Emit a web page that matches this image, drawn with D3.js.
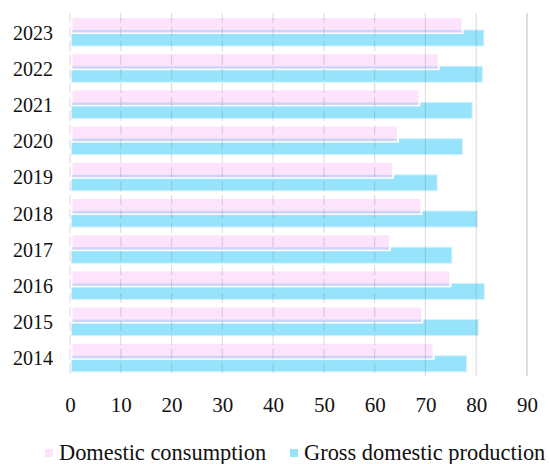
<!DOCTYPE html>
<html>
<head>
<meta charset="utf-8">
<script src="https://cdn.jsdelivr.net/npm/d3@7"></script>
<style>
  html, body { margin: 0; padding: 0; background: #fff; }
  svg { display: block; }
  text { font-family: "Liberation Serif", "Times New Roman", serif; fill: #111; }
</style>
</head>
<body>
<svg id="chart" width="550" height="464"></svg>
<script>
// Years, top to bottom
const years = ["2023", "2022", "2021", "2020", "2019", "2018", "2017", "2016", "2015", "2014"];
// Domestic consumption per year
const consumption = [77.3, 72.6, 68.8, 64.6, 63.6, 69.2, 63.0, 74.9, 69.4, 71.6];
// Gross domestic production per year
const production = [81.5, 81.2, 79.2, 77.3, 72.3, 80.2, 75.2, 81.6, 80.4, 78.1];
// Axis ticks
const ticks = [0, 10, 20, 30, 40, 50, 60, 70, 80, 90];
const seriesNames = ["Domestic consumption", "Gross domestic production"];

const svg = d3.select("#chart");

const x = d3.scaleLinear().domain([0, 90]).range([70, 527]);
const y = d3.scaleBand().domain(years).range([14, 376]).padding(0);

const rows = years.map((yr, i) => ({ year: yr, cons: consumption[i], prod: production[i] }));

// Production bars (lower bar of each pair)
svg.append("g").selectAll("rect")
  .data(rows).join("rect")
  .attr("x", x(0) + 1.5)
  .attr("y", d => y(d.year) + 16)
  .attr("width", d => x(d.prod) - x(0) - 1.5)
  .attr("height", 16)
  .attr("fill", "#98e3fc")
  .attr("stroke", "#d2f2fd")
  .attr("stroke-width", 1);

// Consumption bars (upper bar, drawn over production)
const cons = svg.append("g").selectAll("g")
  .data(rows).join("g");
cons.append("rect")
  .attr("x", x(0) + 1.5)
  .attr("y", d => y(d.year) + 3)
  .attr("width", d => x(d.cons) - x(0) - 1.5)
  .attr("height", 16)
  .attr("fill", "#fde3fc")
  .attr("stroke", "#ffffff")
  .attr("stroke-width", 2);
cons.append("rect")
  .attr("x", x(0) + 2.5)
  .attr("y", d => y(d.year) + 16)
  .attr("width", d => x(d.cons) - x(0) - 3.5)
  .attr("height", 2.5)
  .attr("fill", "#cdd4f9");

// Vertical grid lines, drawn over the bars
const grid = svg.append("g");
grid.selectAll("line")
  .data(ticks).join("line")
  .attr("x1", d => x(d)).attr("x2", d => x(d))
  .attr("y1", 13).attr("y2", 376)
  .attr("stroke", d => d === 90 ? "rgba(150,150,150,0.3)" : "rgba(110,110,110,0.22)")
  .attr("stroke-width", d => d === 90 ? 2 : 1.2)
  .attr("stroke-dasharray", d => d <= 60 ? "10,4" : null);

// Category labels
svg.append("g").selectAll("text")
  .data(years).join("text")
  .attr("x", 53)
  .attr("y", d => y(d) + y.bandwidth() / 2 + 7.5)
  .attr("text-anchor", "end")
  .attr("font-size", 20)
  .text(d => d);

// Value axis labels
const xAxis = d3.axisBottom(x).tickValues(ticks).tickSize(0).tickPadding(0);
const gx = svg.append("g").attr("transform", "translate(0,397)").call(xAxis);
gx.select(".domain").remove();
gx.selectAll("text")
  .attr("font-size", 21)
  .attr("font-family", "Liberation Serif, serif")
  .attr("fill", "#111")
  .attr("dy", "0.71em");

// Legend
const legendColors = ["#fde3fc", "#98e3fc"];
const legendX = [45, 290];
const leg = svg.append("g").selectAll("g")
  .data(seriesNames).join("g")
  .attr("transform", (d, i) => `translate(${legendX[i]},449)`);
leg.append("rect")
  .attr("width", 8).attr("height", 8)
  .attr("fill", (d, i) => legendColors[i]);
leg.append("text")
  .attr("x", 14).attr("y", 10.5)
  .attr("font-size", 22.4)
  .text(d => d);
</script>
</body>
</html>
